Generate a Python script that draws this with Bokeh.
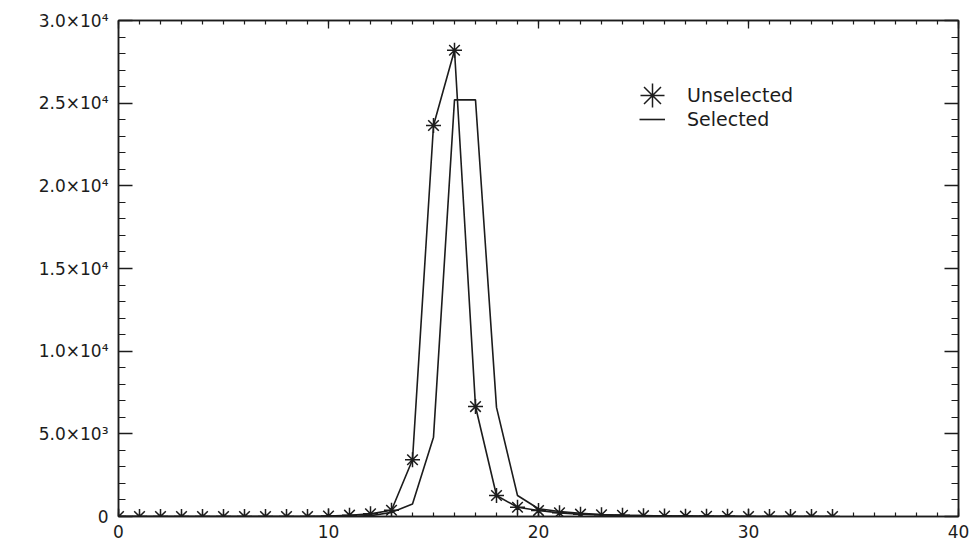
from bokeh.plotting import figure
from bokeh.models import (LinearAxis, FixedTicker, Legend, LegendItem, Range1d)
from bokeh.embed import file_html
from bokeh.resources import INLINE

# ---- data ----
x_vals = list(range(0, 35))
unselected = [0, 0, 0, 0, 0, 0, 0, 0, 0, 0,
              30, 80, 160, 380, 3430, 23650, 28200, 6650, 1270, 560,
              360, 220, 140, 100, 70, 50, 30, 20, 10, 10,
              0, 0, 0, 0, 0]
selected = [0, 0, 0, 0, 0, 0, 0, 0, 0, 0,
            0, 0, 50, 250, 750, 4800, 25200, 25200, 6600, 1270,
            470, 300, 200, 120, 80, 50, 30, 20, 10, 10,
            0, 0, 0, 0, 0]

x_major = [0, 10, 20, 30, 40]
x_minor = list(range(0, 41))
y_major = [0, 5000, 10000, 15000, 20000, 25000, 30000]
y_minor = list(range(0, 30001, 1000))
y_labels = ["0", "5.0×10³", "1.0×10⁴", "1.5×10⁴", "2.0×10⁴", "2.5×10⁴", "3.0×10⁴"]
legend_labels = ["Unselected", "Selected"]

INK = "#1c1c1c"
FONT = "DejaVu Sans"

p = figure(frame_width=840, frame_height=496,
           x_range=Range1d(0, 40), y_range=Range1d(0, 30000),
           output_backend="svg", toolbar_location=None,
           min_border_left=118, min_border_right=17,
           min_border_top=20, min_border_bottom=27,
           x_axis_type=None, y_axis_type=None)
p.background_fill_color = "white"
p.border_fill_color = "white"
p.outline_line_color = INK
p.outline_line_width = 1.5
p.xgrid.visible = False
p.ygrid.visible = False

xt = FixedTicker(ticks=x_major, minor_ticks=x_minor)
yt = FixedTicker(ticks=y_major, minor_ticks=y_minor)


def style_axis(ax, horizontal, labels):
    ax.axis_line_color = INK
    ax.axis_line_width = 1.5
    ax.major_tick_line_color = INK
    ax.minor_tick_line_color = INK
    ax.major_tick_line_width = 1.3
    ax.minor_tick_line_width = 1.2
    ax.major_tick_out = 0
    ax.minor_tick_out = 0
    if horizontal:
        ax.major_tick_in = 8
        ax.minor_tick_in = 4
    else:
        ax.major_tick_in = 14
        ax.minor_tick_in = 7
    if labels:
        ax.major_label_text_font = FONT
        ax.major_label_text_font_size = "17px"
        ax.major_label_text_color = INK
        ax.major_label_standoff = 8 if horizontal else 10
    else:
        ax.major_label_text_font_size = "1px"
        ax.major_label_text_color = None
        ax.major_label_standoff = 0


bottom = LinearAxis(ticker=xt)
style_axis(bottom, True, True)
top = LinearAxis(ticker=xt)
style_axis(top, True, False)
left = LinearAxis(ticker=yt)
left.major_label_overrides = {v: s for v, s in zip(y_major, y_labels)}
style_axis(left, False, True)
right = LinearAxis(ticker=yt)
style_axis(right, False, False)

p.add_layout(bottom, "below")
p.add_layout(top, "above")
p.add_layout(left, "left")
p.add_layout(right, "right")

# ---- series ----
r_un_line = p.line(x_vals, unselected, line_color=INK, line_width=1.6)
r_un_pts = p.scatter(x_vals, unselected, marker="asterisk", size=15,
                     line_color=INK, line_width=1.5)
r_sel = p.line(x_vals, selected, line_color=INK, line_width=1.6)

# ---- legends ----
leg1 = Legend(items=[LegendItem(label=legend_labels[0], renderers=[r_un_pts])],
              location=(504, 391), glyph_width=60, glyph_height=60,
              label_standoff=5, padding=0, margin=0, spacing=0,
              border_line_color=None, background_fill_alpha=0,
              label_text_font=FONT, label_text_font_size="19px",
              label_text_color=INK)
leg2 = Legend(items=[LegendItem(label=legend_labels[1], renderers=[r_sel])],
              location=(521, 385), glyph_width=26, glyph_height=24,
              label_standoff=22, padding=0, margin=0, spacing=0,
              border_line_color=None, background_fill_alpha=0,
              label_text_font=FONT, label_text_font_size="19px",
              label_text_color=INK)
p.add_layout(leg1, "center")
p.add_layout(leg2, "center")

open("out.html", "w").write(file_html(p, INLINE))
